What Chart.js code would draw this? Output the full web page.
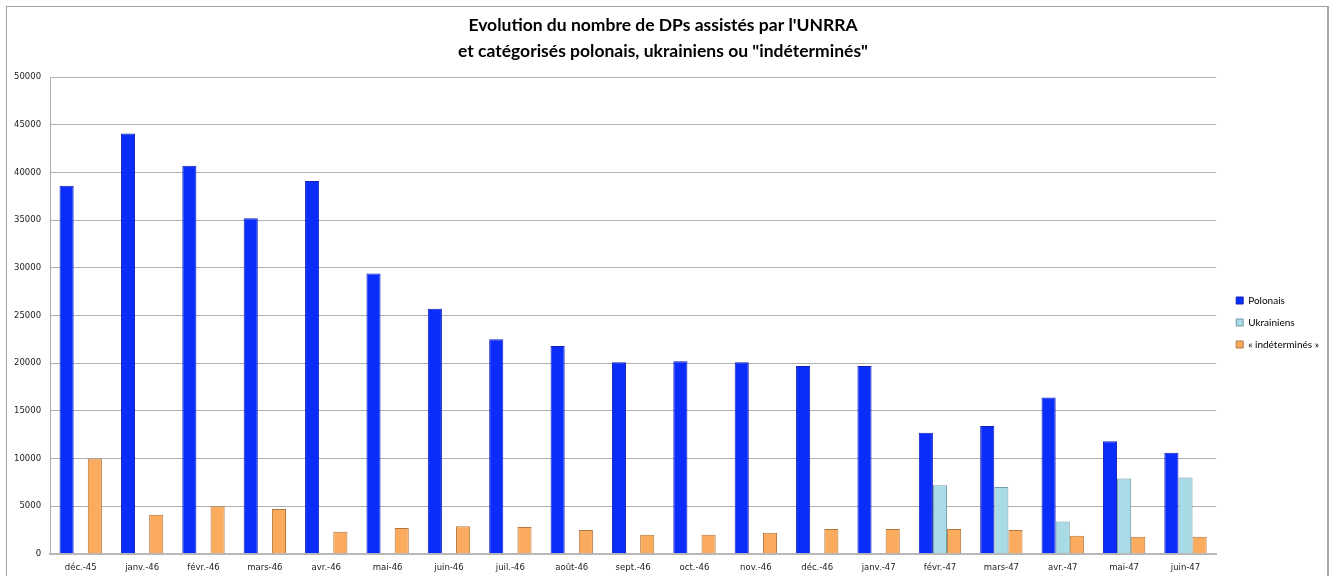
<!DOCTYPE html>
<html>
<head>
<meta charset="utf-8">
<script src="https://cdn.jsdelivr.net/npm/chart.js@4.4.1/dist/chart.umd.min.js"></script>
<style>
    html, body { margin: 0; padding: 0; background: #fff; overflow: hidden; }
    #frame {
        position: absolute; left: 6px; top: 6px;
        width: 1323px; height: 600px;
        border: 1px solid #a0a0a0;
        border-right: 2px solid #a8a8a8;
        box-sizing: border-box;
    }
    #wrap { position: absolute; left: -2px; top: 0; width: 1322px; height: 567px; }
</style>
</head>
<body>
<div id="frame">
    <div id="wrap"><canvas id="dpChart"></canvas></div>
</div>
<script>
    const months = ['déc.-45', 'janv.-46', 'févr.-46', 'mars-46', 'avr.-46', 'mai-46', 'juin-46',
        'juil.-46', 'août-46', 'sept.-46', 'oct.-46', 'nov.-46', 'déc.-46', 'janv.-47',
        'févr.-47', 'mars-47', 'avr.-47', 'mai-47', 'juin-47'];
    const polonais = [38600, 44100, 40700, 35200, 39100, 29400, 25700, 22500, 21800, 20100,
        20200, 20100, 19700, 19700, 12700, 13400, 16400, 11800, 10600];
    const ukrainiens = [null, null, null, null, null, null, null, null, null, null,
        null, null, null, null, 7200, 7000, 3400, 7900, 8000];
    const indetermines = [10000, 4100, 5000, 4700, 2300, 2700, 2900, 2800, 2500, 2000,
        2000, 2200, 2600, 2600, 2600, 2500, 1900, 1800, 1800];
    const yTicks = [0, 5000, 10000, 15000, 20000, 25000, 30000, 35000, 40000, 45000, 50000];

    const tickFont = { family: 'DejaVu Sans', size: 8.5 };

    // nudge the legend block to where the original sits (right of the plot, lower)
    const legendOffset = {
        id: 'legendOffset',
        afterLayout(chart) {
            const lg = chart.legend;
            if (!lg) return;
            lg.left += 8; lg.right += 8;
            lg.top += 32; lg.bottom += 32;
        }
    };

    const ctx = document.getElementById('dpChart').getContext('2d');
    new Chart(ctx, {
        type: 'bar',
        data: {
            labels: months,
            datasets: [
                {
                    label: 'Polonais',
                    data: polonais,
                    backgroundColor: '#0b2dfb',
                    borderColor: '#1020b8',
                    borderWidth: 1
                },
                {
                    label: 'Ukrainiens',
                    data: ukrainiens,
                    backgroundColor: '#a9dbe6',
                    borderColor: '#6f9ca8',
                    borderWidth: 1
                },
                {
                    label: '« indéterminés »',
                    data: indetermines,
                    backgroundColor: '#fbab5e',
                    borderColor: '#b3763c',
                    borderWidth: 1
                }
            ]
        },
        options: {
            responsive: true,
            maintainAspectRatio: false,
            animation: false,
            datasets: {
                bar: { categoryPercentage: 0.69, barPercentage: 1 }
            },
            layout: { padding: { left: 0, right: 6, top: 0, bottom: 0 } },
            plugins: {
                title: {
                    display: true,
                    text: ['Evolution du nombre de DPs assistés par l\'UNRRA',
                        'et catégorisés polonais, ukrainiens ou "indéterminés"'],
                    color: '#000',
                    font: { family: 'Lato', size: 17.5, weight: 'bold', lineHeight: 1.49 },
                    padding: { top: 5, bottom: 13 }
                },
                legend: {
                    position: 'right',
                    labels: {
                        boxWidth: 7,
                        boxHeight: 7,
                        padding: 12,
                        color: '#000',
                        font: { family: 'Lato', size: 10 }
                    }
                },
                tooltip: { enabled: false }
            },
            scales: {
                x: {
                    grid: { display: false },
                    border: { color: '#b8b8b8', width: 2 },
                    ticks: { color: '#222', font: tickFont, padding: 1, maxRotation: 0, autoSkip: false }
                },
                y: {
                    min: 0,
                    max: 50000,
                    afterBuildTicks: function (axis) {
                        axis.ticks = yTicks.map(v => ({ value: v }));
                    },
                    grid: { color: '#b0b0b0', drawTicks: false },
                    border: { color: '#b0b0b0' },
                    ticks: {
                        color: '#222', font: tickFont, padding: 9,
                        callback: v => String(v)
                    }
                }
            }
        },
        plugins: [legendOffset]
    });
</script>
</body>
</html>
